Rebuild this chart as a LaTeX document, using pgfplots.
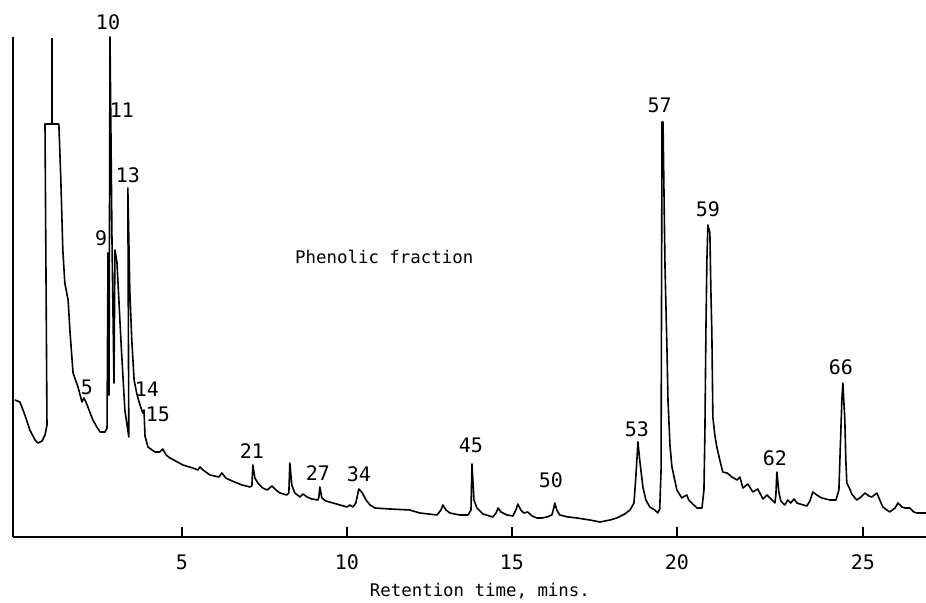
\documentclass[border=0pt]{standalone}
\usepackage{fontspec}
\setmainfont{DejaVu Sans Mono}
\usepackage{pgfplots}
\pgfplotsset{compat=1.18}

\begin{document}
\begin{tikzpicture}
\begin{axis}[
  scale only axis, width=456.5pt, height=250pt,
  xmin=-0.12, xmax=27.55, ymin=0, ymax=500,
  axis lines*=left, axis line style={-, line width=0.8pt},
  ytick=\empty,
  xtick={5,10,15,20,25.64}, xticklabels={5,10,15,20,25},
  tick align=inside, major tick length=5pt,
  tick style={line width=0.8pt, black},
  xticklabel style={anchor=center, yshift=-12.5pt, font=\fontsize{10}{12}\selectfont},
  /pgf/number format/assume math mode=true,
  clip=false,
  every node near coord/.append style={font=\fontsize{10}{12}\selectfont},
]
% chromatogram trace (time in min, detector response)
\addplot[black, line width=0.8pt, line join=round] coordinates {
(-0.06,137) (0.09,135) (0.24,122) (0.39,107) (0.55,97) (0.64,94) (0.76,96)
(0.85,102) (0.91,112) (0.85,413) (1.27,413) (1.33,357) (1.39,287) (1.45,254)
(1.55,237) (1.61,204) (1.70,164) (1.85,150) (1.97,135) (2.03,139) (2.09,135)
(2.15,130) (2.30,117) (2.42,110) (2.52,105) (2.67,105) (2.73,109) (2.76,284)
(2.79,142) (2.82,500) (2.88,297) (2.94,154) (2.97,287) (3.03,275) (3.15,197)
(3.27,127) (3.39,100) (3.36,349) (3.42,247) (3.48,197) (3.55,157) (3.64,142)
(3.73,132) (3.79,126) (3.82,124) (3.85,127) (3.88,101) (3.97,90) (4.18,85)
(4.33,85) (4.42,88) (4.52,82) (4.64,79) (5.03,72) (5.33,69) (5.48,67)
(5.55,70) (5.64,67) (5.85,62) (6.12,60) (6.21,64) (6.33,59) (6.52,56)
(6.82,52) (7.06,50) (7.12,51) (7.15,72) (7.21,59) (7.30,54) (7.45,49)
(7.58,47) (7.73,51) (7.85,47) (7.97,44) (8.18,42) (8.24,44) (8.27,74)
(8.33,52) (8.42,44) (8.58,40) (8.67,43) (8.79,40) (8.94,38) (9.12,37)
(9.15,40) (9.18,50) (9.24,39) (9.36,36) (9.58,34) (9.79,32) (10.00,30)
(10.09,32) (10.18,30) (10.27,34) (10.36,48) (10.45,45) (10.58,37) (10.70,32)
(10.85,29) (11.30,28) (11.91,27) (12.00,26) (12.21,24) (12.73,22) (12.85,27)
(12.91,32) (13.00,27) (13.12,24) (13.42,22) (13.67,22) (13.76,27) (13.79,73)
(13.85,37) (13.94,29) (14.12,23) (14.42,20) (14.52,24) (14.58,29) (14.67,25)
(14.85,22) (15.03,21) (15.12,27) (15.18,33) (15.27,27) (15.36,24) (15.48,25)
(15.61,21) (15.76,19) (15.91,19) (16.06,20) (16.21,22) (16.27,29) (16.30,34)
(16.36,27) (16.45,22) (16.70,20) (16.97,19) (17.36,17) (17.67,15) (17.97,17)
(18.18,19) (18.42,23) (18.58,27) (18.70,34) (18.76,62) (18.82,95) (18.88,75)
(18.97,50) (19.06,37) (19.18,30) (19.33,27) (19.42,24) (19.48,28) (19.52,67)
(19.55,415) (19.58,415) (19.64,270) (19.70,187) (19.73,137) (19.79,92)
(19.85,70) (20.00,47) (20.15,39) (20.24,41) (20.30,42) (20.36,37) (20.45,34)
(20.61,29) (20.76,29) (20.82,47) (20.85,107) (20.88,207) (20.91,277)
(20.94,312) (21.00,304) (21.03,247) (21.06,204) (21.09,120) (21.15,102)
(21.21,90) (21.30,77) (21.39,65) (21.52,64) (21.67,60) (21.82,57) (21.91,60)
(22.00,49) (22.15,53) (22.30,45) (22.45,48) (22.61,38) (22.73,42) (22.88,37)
(22.97,34) (23.00,42) (23.03,65) (23.09,45) (23.15,36) (23.27,32) (23.36,37)
(23.45,34) (23.55,38) (23.64,34) (23.73,33) (23.94,31) (24.03,36) (24.12,45)
(24.24,42) (24.39,39) (24.64,37) (24.82,37) (24.91,47) (24.94,77) (25.00,137)
(25.03,154) (25.09,117) (25.12,77) (25.15,54) (25.24,48) (25.30,43)
(25.45,37) (25.58,40) (25.70,44) (25.82,41) (25.91,40) (26.06,44) (26.15,37)
(26.24,30) (26.45,25) (26.61,29) (26.70,34) (26.82,30) (26.91,29) (27.06,29)
(27.18,25) (27.27,24) (27.55,24)
};
% off-scale solvent peak marker
\addplot[black, line width=0.8pt] coordinates {(1.06,413) (1.06,499)};

\begin{scope}[every node/.style={font=\fontsize{10}{12}\selectfont, inner sep=0pt}]
\node at (axis cs:2.76,515) {10};
\node at (axis cs:3.18,427) {11};
\node at (axis cs:3.36,362) {13};
\node at (axis cs:2.55,299) {9};
\node at (axis cs:2.12,150) {5};
\node at (axis cs:3.94,148) {14};
\node at (axis cs:4.27,123) {15};
\node at (axis cs:7.12,86) {21};
\node at (axis cs:9.12,64) {27};
\node at (axis cs:10.36,63) {34};
\node at (axis cs:13.76,92) {45};
\node at (axis cs:16.18,57) {50};
\node at (axis cs:18.79,108) {53};
\node at (axis cs:19.48,432) {57};
\node at (axis cs:20.94,328) {59};
\node at (axis cs:22.97,79) {62};
\node at (axis cs:24.97,170) {66};
\end{scope}
\node[anchor=west, inner sep=0pt, font=\fontsize{8.7}{10}\selectfont] at (axis cs:8.42,280) {Phenolic fraction};
\node[inner sep=0pt, font=\fontsize{8.7}{10}\selectfont, yshift=-27pt] at (axis cs:14.03,0) {Retention time, mins.};

\coordinate (bl) at (rel axis cs:0,0);
\coordinate (tr) at (rel axis cs:1,1);
\end{axis}
\pgfresetboundingbox
\path ([xshift=-6.5pt,yshift=-33pt]bl) rectangle ([yshift=18.5pt]tr);
\end{tikzpicture}
\end{document}
